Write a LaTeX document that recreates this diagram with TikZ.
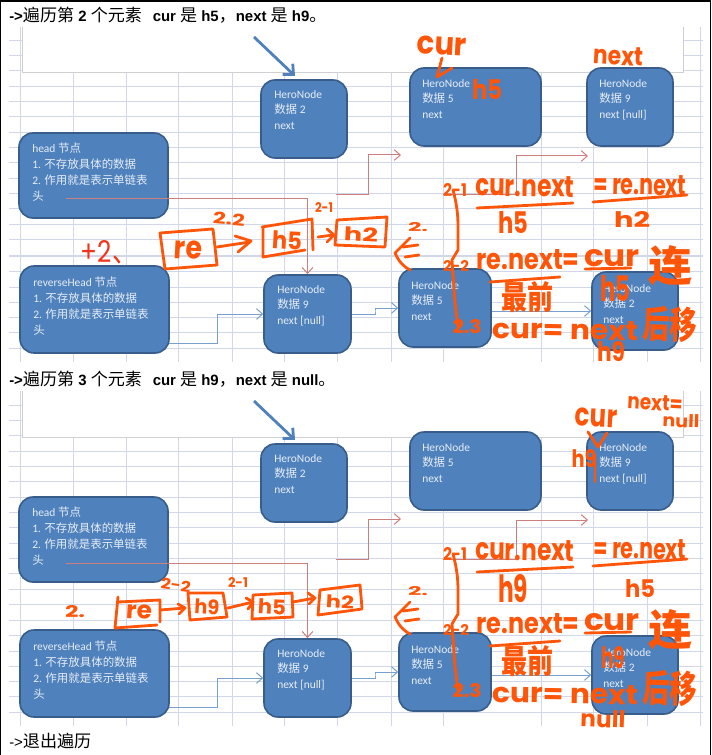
\documentclass[tikz,border=0pt]{standalone}
\usepackage{fontspec}
\usepackage{graphicx}
\usetikzlibrary{arrows.meta}
\setmainfont{Carlito}
\newfontfamily\cjk{Noto Sans CJK SC}
\newfontfamily\titlat{Liberation Sans}
\newfontfamily\hand{Poppins}
\newdimen\pxu \pxu=.75pt
\definecolor{gridc}{HTML}{D2D7E8}
\definecolor{framec}{HTML}{CFCFD4}
\definecolor{nodef}{HTML}{4F81BD}
\definecolor{noded}{HTML}{385D8A}
\definecolor{nodet}{HTML}{E6EDF6}
\definecolor{redc}{HTML}{CC7F7C}
\definecolor{bluec}{HTML}{79A0CC}
\definecolor{penc}{HTML}{FF5508}
\definecolor{penr}{HTML}{F0351A}
\tikzset{
  gridline/.style={draw=gridc,line width=.75pt},
  framebox/.style={draw=framec,line width=.75pt},
  box/.style={draw=noded,fill=nodef,line width=1.2pt,rounded corners=10.5pt,inner sep=0pt},
  boxtext/.style={text=nodet,inner sep=0pt,anchor=north west,align=left,font=\fontsize{8.6}{11.8}\selectfont},
  redline/.style={draw=redc,line width=.75pt,-{Straight Barb[length=4.5pt,width=8pt]}},
  blueline/.style={draw=bluec,line width=.75pt,-{Straight Barb[length=4.5pt,width=8pt]}},
  bigarrow/.style={draw=nodef,line width=2.1pt,-{Straight Barb[length=6pt,width=11pt]}},
  pen/.style={draw=penc,line width=2.1pt,line cap=round,line join=round},
  handtext/.style={text=penc,inner sep=0pt},
  titletext/.style={inner sep=0pt,anchor=west,text=black}
}
\newcommand{\zh}[1]{{\cjk #1}}
\newcommand{\tz}[1]{{\mdseries\cjk\fontsize{12.8}{14}\selectfont #1}}
% name, x1,y1,x2,y2, text x, text y, text
\newcommand{\pbox}[8]{%
  \node[box,minimum width={(#4-#2)*.75pt},minimum height={(#5-#3)*.75pt}] (#1) at ({(#2+#4)/2},{(#3+#5)/2}) {};
  \node[boxtext] (#1t) at (#6,#7) {#8};}
% name, cx, cy, w, h, rotation, text
\newcommand{\hw}[7]{\node[handtext,rotate=#6] (#1) at (#2,#3) {\resizebox{#4\pxu}{#5\pxu}{\hand\bfseries #7}};}
\newcommand{\panelbase}{%
  \foreach \vx in {20,73,126,178,232,284,337,391,443,541,593,647,700}
    \draw[gridline] (\vx,27) -- (\vx,362);
  \foreach \hy in {41,56,71,87,102,117,133,148,163,179,194,209,225,240,256,271,287,302,317,332,348}
    \draw[gridline] (9,\hy) -- (703,\hy);
  \fill[white] (22,27) rectangle (683,73);
  \draw[framebox] (22,27) -- (22,73) -- (683,73) -- (683,27);
  \coordinate (ar0) at (254,37);
  \coordinate (ar1) at (295,76);
  \draw[bigarrow] (ar0) -- (ar1);
  \pbox{head}{19}{133}{168}{218}{32}{143}{head \zh{节点}\\1. \zh{不存放具体的数据}\\2. \zh{作用就是表示单链表}\\\zh{头}}
  \pbox{rh}{20}{266}{169}{353}{33}{277}{reverseHead \zh{节点}\\1. \zh{不存放具体的数据}\\2. \zh{作用就是表示单链表}\\\zh{头}}
  \pbox{ntwo}{261}{80}{347}{158}{274}{90}{HeroNode\\\zh{数据} 2\\next}
  \pbox{nfive}{410}{68}{541}{146}{422}{79}{HeroNode\\\zh{数据} 5\\next}
  \pbox{nnine}{587}{68}{673}{146}{599}{79}{HeroNode\\\zh{数据} 9\\next [null]}
  \pbox{lnine}{264}{275}{351}{353}{277}{285}{HeroNode\\\zh{数据} 9\\next [null]}
  \pbox{lfive}{399}{269}{491}{347}{411}{281}{HeroNode\\\zh{数据} 5\\next}
  \pbox{ltwo}{592}{272}{678}{350}{603}{284}{HeroNode\\\zh{数据} 2\\next}
  \coordinate (ra) at (66,199);
  \draw[redline] (ra) -| (lnine.north);
  \coordinate (rb) at (336,195); \coordinate (rbm) at (368,155); \coordinate (rbe) at (401,155);
  \draw[redline] (rb) -| (rbm) -- (rbe);
  \coordinate (rc) at (443,195); \coordinate (rcm) at (516,156); \coordinate (rce) at (588,156);
  \draw[redline] (rc) -| (rcm) -- (rce);
  \coordinate (ba) at (169,343); \coordinate (bam) at (217,314);
  \draw[blueline] (ba) -| (bam) -- (lnine.west);
  \coordinate (bb) at (375,311);
  \draw[blueline] (lnine.east) -| (bb) |- (lfive.west);
  \draw[blueline] (lfive.east |- ltwo.west) -- (ltwo.west);
}
\newcommand{\panelhand}{%
  \hw{tlb}{418}{227}{20}{9}{0}{2.}
  \draw[pen] (410,238) -- (395,253) .. controls (399,262) and (404,267) .. (410,270);
  \draw[pen] (403,247) -- (418,245);
  \draw[pen] (405,257) -- (419,255);
  \hw{fa}{455}{190}{24}{13}{0}{2-1}
  \draw[pen] (453,190) .. controls (457,205) and (458,215) .. (458,227) -- (458,250) -- (452,260) -- (455,303) -- (458,327);
  \hw{fb}{456}{266}{26}{11}{0}{2-2}
  \hw{fc}{467}{327}{29}{14}{0}{2.3}
  \hw{fd}{525}{186}{99}{21}{-1}{cur.next}
  \hw{fe}{640}{185}{93}{20}{-1}{= re.next}
  \draw[pen] (477,208) -- (573,203);
  \draw[pen] (593,202) -- (687,195);
  \hw{ff}{528}{260}{103}{20}{0}{re.next=}
  \hw{fg}{612}{258}{56}{17}{0}{cur}
  \draw[pen] (585,269) -- (631,268);
  \hw{fh}{670}{266}{44}{36}{0}{\cjk 连}
  \draw[pen] (490,282) -- (560,277);
  \hw{fi}{527}{297}{52}{28}{0}{\cjk 最前}
  \hw{fj}{565}{330}{146}{19}{-1}{cur= next}
  \hw{fk}{670}{324}{54}{32}{-2}{\cjk 后移}
}
\begin{document}
\begin{tikzpicture}[x=.75pt,y=-.75pt]
\useasboundingbox (0,0) rectangle (711,755);
\fill[white] (0,0) rectangle (711,755);
\draw[black,line width=1pt] (0.5,755) -- (0.5,1) -- (710.5,1) -- (710.5,755);
\node[titletext] (titlea) at (9,15) {\titlat\bfseries\fontsize{11.2}{13}\selectfont ->\tz{遍历第} 2 \tz{个元素}\ \ \,cur \tz{是} h5\tz{，}next \tz{是} h9\tz{。}};
\node[titletext] (titleb) at (9,379) {\titlat\bfseries\fontsize{11.2}{13}\selectfont ->\tz{遍历第} 3 \tz{个元素}\ \ \,cur \tz{是} h9\tz{，}next \tz{是} null\tz{。}};
\node[titletext] (titlec) at (9,741) {\titlat\fontsize{11.2}{13}\selectfont ->{\cjk\fontsize{12.8}{14}\selectfont 退出遍历}};
\begin{scope}[name prefix=a-]
\panelbase
\panelhand
\hw{cur}{442}{46}{50}{18}{-3}{cur}
\draw[pen] (442,58) -- (437,77) -- (452,68);
\hw{hf}{487}{90}{30}{20}{0}{h5}
\hw{nx}{618}{56}{50}{18}{-3}{next}
\node[handtext,text=penr] (plus) at (109,252) {\resizebox{56\pxu}{22\pxu}{\hand\mdseries +2{\cjk 、}}};
\draw[pen] (160,233) -- (213,229) -- (217,265) -- (165,269) -- cycle;
\hw{bre}{188}{250}{28}{18}{-3}{re}
\draw[pen] (217,247) -- (250,242);
\draw[pen] (235,236) -- (251,241) -- (238,252);
\hw{lab}{229}{219}{32}{12}{-5}{2.2}
\draw[pen] (262,227) -- (312,219) -- (313,250);
\draw[pen] (263,227) -- (263,257) -- (305,250);
\hw{bh}{287}{240}{30}{18}{-3}{h5}
\draw[pen] (318,237) -- (333,235);
\draw[pen] (327,229) -- (334,235) -- (327,242);
\hw{lac}{324}{208}{18}{10}{0}{2-1}
\draw[pen] (337,220) -- (387,217) -- (385,247) -- (335,245) -- cycle;
\hw{bt}{361}{234}{34}{14}{-3}{h2}
\hw{ua}{513}{222}{30}{22}{0}{h5}
\hw{ub}{632}{220}{36}{16}{0}{h2}
\hw{uc}{615}{288}{30}{26}{0}{h5}
\hw{ud}{611}{352}{28}{20}{0}{h9}
\end{scope}
\begin{scope}[shift={(0,364)},name prefix=b-]
\panelbase
\panelhand
\hw{cur}{596}{54}{42}{18}{-3}{cur}
\draw[pen] (588,68) -- (598,83) -- (607,69);
\hw{hn}{584}{95}{25}{18}{0}{h9}
\draw[pen] (595,91) -- (595,118);
\hw{nx}{655}{39}{55}{15}{-3}{next=}
\hw{nl}{681}{57}{37}{13}{-2}{null}
\hw{lab}{75}{247.5}{20}{12}{0}{2.}
\draw[pen] (118,233) -- (115,264) -- (157,261);
\draw[pen] (118,238) -- (160,236) -- (160,258);
\hw{bre}{139}{248}{26}{14}{-3}{re}
\draw[pen] (160,246) -- (185,244);
\draw[pen] (178,240) -- (185,244) -- (179,250);
\draw[pen] (188,229) -- (190,256) -- (227,253) -- (223,229) -- cycle;
\hw{bn}{207}{243}{25}{15}{-3}{h9}
\hw{lac}{176}{221}{30}{11}{-8}{2-2}
\hw{lad}{238}{218}{20}{10}{0}{2-1}
\draw[pen] (228,244) -- (253,238);
\draw[pen] (246,234) -- (253,238) -- (248,245);
\draw[pen] (253,231) -- (292,229) -- (293,253) -- (252,255) -- cycle;
\hw{bh}{272}{243}{28}{15}{-3}{h5}
\draw[pen] (293,238) -- (315,234);
\draw[pen] (308,229) -- (315,234) -- (309,240);
\draw[pen] (320,226) -- (360,221) -- (362,244);
\draw[pen] (320,226) -- (318,251) -- (362,245);
\hw{bt}{340}{238}{28}{13}{-3}{h2}
\hw{ua}{513}{225}{30}{28}{0}{h9}
\hw{ub}{640}{224}{30}{18}{0}{h5}
\hw{uc}{613}{294}{24}{22}{0}{h9}
\hw{ud}{603}{355}{45}{17}{-2}{null}
\end{scope}
\end{tikzpicture}
\end{document}
